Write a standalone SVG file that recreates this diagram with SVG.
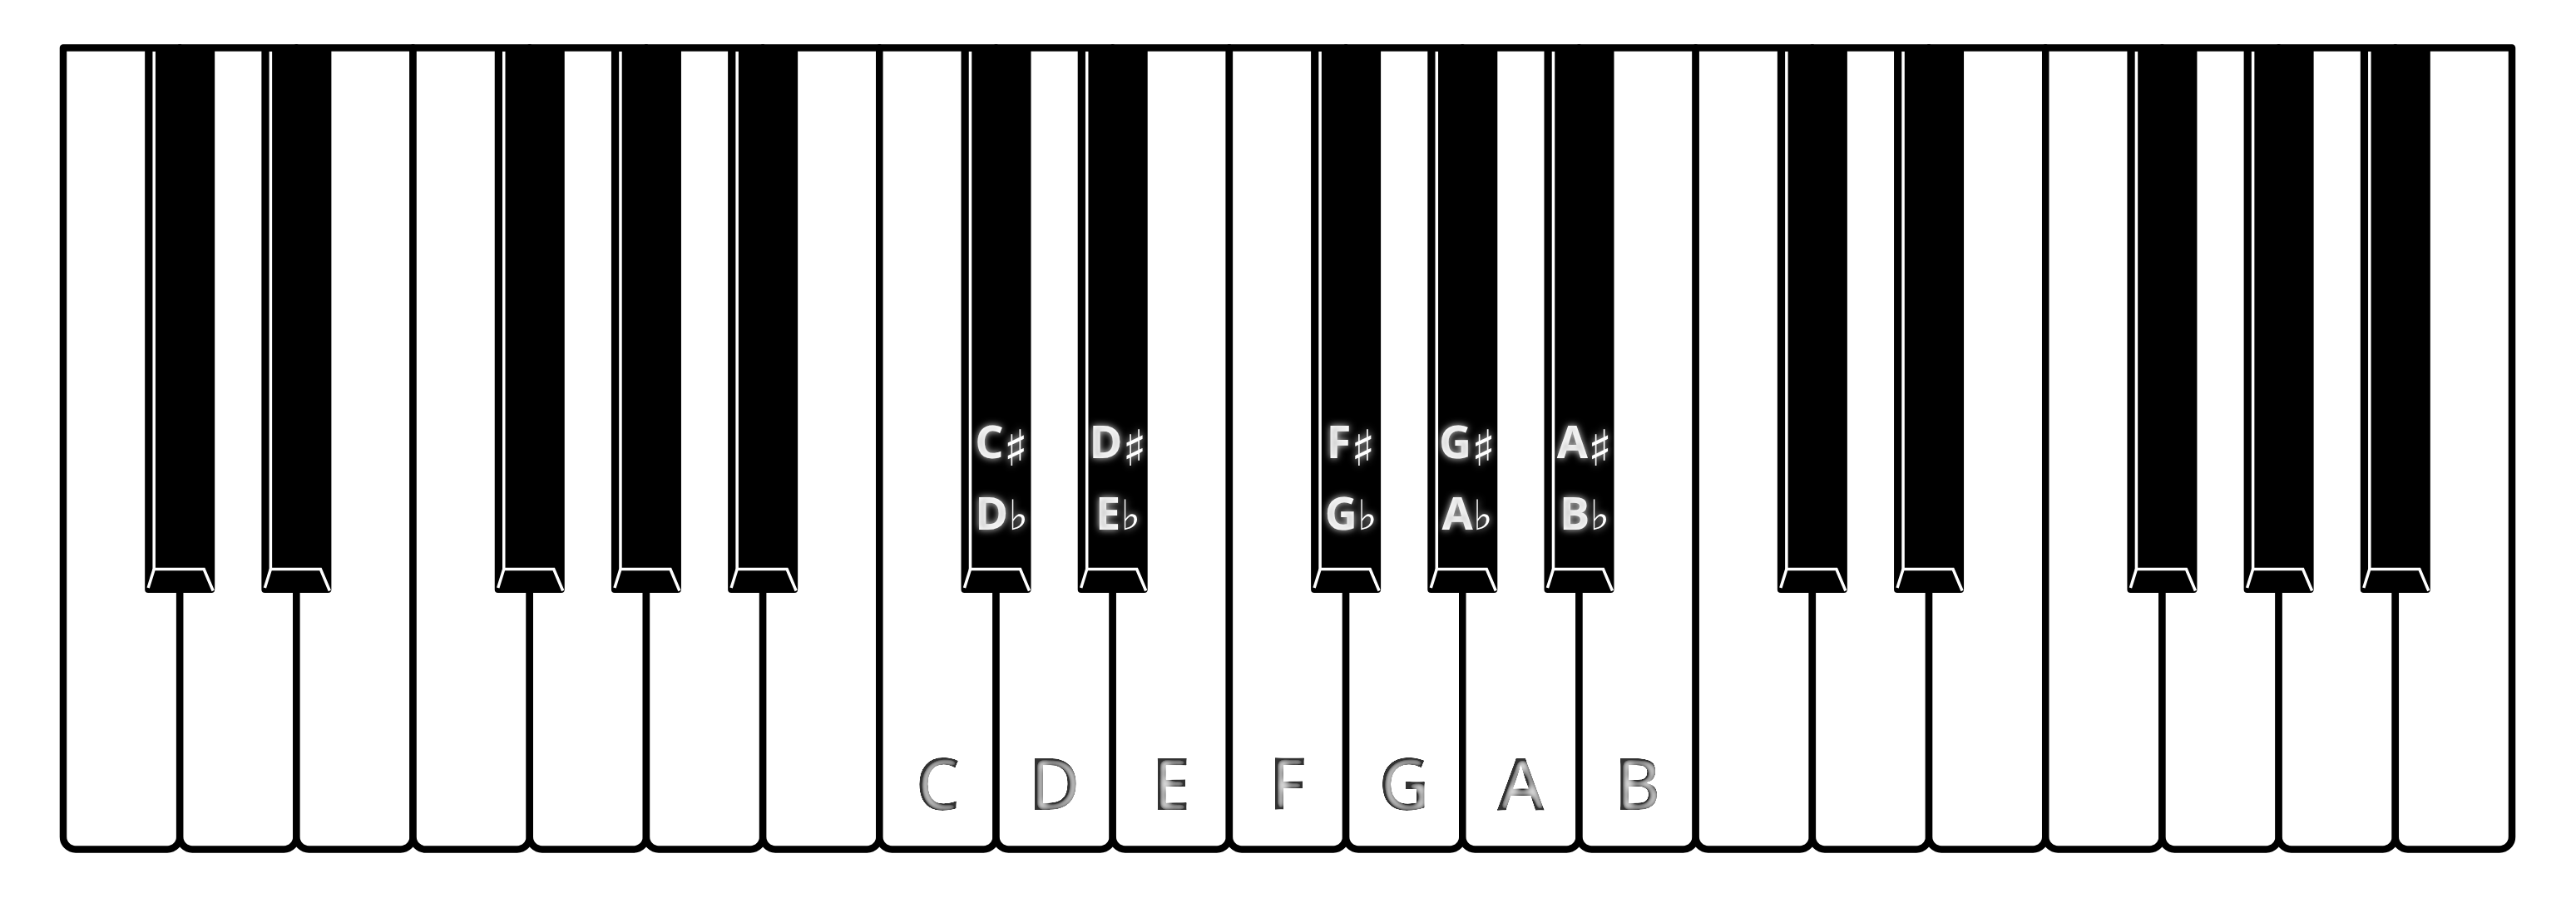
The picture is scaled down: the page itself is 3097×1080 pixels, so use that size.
<svg xmlns="http://www.w3.org/2000/svg" width="3097" height="1080" viewBox="0 0 3097 1080">
<style>
.wk{fill:#fff;stroke:#000;stroke-width:8.5;stroke-linejoin:round}
.bkbody{fill:#000}
.hl{fill:none;stroke:#fff;stroke-width:3.5;stroke-linejoin:miter}
.bl{font-family:"Open Sans","Liberation Sans",sans-serif;font-weight:700;font-size:54px;fill:#fff;text-anchor:middle;filter:url(#glow)}
.sh{font-family:"DejaVu Sans",sans-serif;font-weight:400;font-size:60px}
.fl{font-family:"DejaVu Sans",sans-serif;font-weight:400;font-size:50px}
.wl{font-family:"Open Sans","Liberation Sans",sans-serif;font-weight:600;font-size:86px;fill:#fafafa;text-anchor:middle;filter:url(#inset)}
</style>
<defs>
<path id="wkshape" class="wk" d="M0,57.5 H140.19 V1006.5 A15,15 0 0 1 125.19,1021.5 H15 A15,15 0 0 1 0,1006.5 Z"/>
<g id="bkshape">
<path class="bkbody" d="M-42,55 H42 V709 Q42,713 38,713 H-38 Q-42,713 -42,709 Z"/>
<path class="hl" d="M-31,62 V684.5 H29 L40,710.5"/>
<path class="hl" d="M-31,684.5 L-38,707"/>
</g>
<filter id="glow" x="-40%" y="-40%" width="180%" height="180%">
<feGaussianBlur in="SourceAlpha" stdDeviation="4" result="b"/>
<feFlood flood-color="#fff" flood-opacity="0.85"/>
<feComposite in2="b" operator="in" result="g"/>
<feMorphology in="SourceAlpha" operator="erode" radius="1.5" result="e"/>
<feGaussianBlur in="e" stdDeviation="3" result="eb"/>
<feFlood flood-color="#555" flood-opacity="0.6"/>
<feComposite in2="eb" operator="in" result="d1"/>
<feComposite in="d1" in2="SourceAlpha" operator="in" result="d"/>
<feMerge><feMergeNode in="g"/><feMergeNode in="SourceGraphic"/><feMergeNode in="d"/></feMerge>
</filter>
<filter id="inset" x="-20%" y="-20%" width="140%" height="140%">
<feGaussianBlur in="SourceAlpha" stdDeviation="5" result="b"/>
<feOffset in="b" dx="1.5" dy="1" result="bo"/>
<feComposite in="SourceAlpha" in2="bo" operator="arithmetic" k2="2.2" k3="-2.2" result="edge"/>
<feFlood flood-color="#333"/>
<feComposite in2="edge" operator="in" result="sh"/>
<feMerge><feMergeNode in="SourceGraphic"/><feMergeNode in="sh"/></feMerge>
</filter>
</defs>
<rect width="3097" height="1080" fill="#fff"/>
<g id="white-keys">
<use id="wk1" href="#wkshape" x="76"/>
<use id="wk2" href="#wkshape" x="216.19"/>
<use id="wk3" href="#wkshape" x="356.38"/>
<use id="wk4" href="#wkshape" x="496.57"/>
<use id="wk5" href="#wkshape" x="636.76"/>
<use id="wk6" href="#wkshape" x="776.95"/>
<use id="wk7" href="#wkshape" x="917.14"/>
<use id="wk8" href="#wkshape" x="1057.33"/>
<use id="wk9" href="#wkshape" x="1197.52"/>
<use id="wk10" href="#wkshape" x="1337.71"/>
<use id="wk11" href="#wkshape" x="1477.9"/>
<use id="wk12" href="#wkshape" x="1618.1"/>
<use id="wk13" href="#wkshape" x="1758.29"/>
<use id="wk14" href="#wkshape" x="1898.48"/>
<use id="wk15" href="#wkshape" x="2038.67"/>
<use id="wk16" href="#wkshape" x="2178.86"/>
<use id="wk17" href="#wkshape" x="2319.05"/>
<use id="wk18" href="#wkshape" x="2459.24"/>
<use id="wk19" href="#wkshape" x="2599.43"/>
<use id="wk20" href="#wkshape" x="2739.62"/>
<use id="wk21" href="#wkshape" x="2879.81"/>
</g>
<g id="black-keys">
<use id="bk1" href="#bkshape" x="216.19"/>
<use id="bk2" href="#bkshape" x="356.38"/>
<use id="bk3" href="#bkshape" x="636.76"/>
<use id="bk4" href="#bkshape" x="776.95"/>
<use id="bk5" href="#bkshape" x="917.14"/>
<use id="bk6" href="#bkshape" x="1197.52"/>
<use id="bk7" href="#bkshape" x="1337.71"/>
<use id="bk8" href="#bkshape" x="1618.1"/>
<use id="bk9" href="#bkshape" x="1758.29"/>
<use id="bk10" href="#bkshape" x="1898.48"/>
<use id="bk11" href="#bkshape" x="2178.86"/>
<use id="bk12" href="#bkshape" x="2319.05"/>
<use id="bk13" href="#bkshape" x="2599.43"/>
<use id="bk14" href="#bkshape" x="2739.62"/>
<use id="bk15" href="#bkshape" x="2879.81"/>
</g>
<g id="black-labels">
<g id="lbl-cs"><text class="bl" x="1204" y="551">C<tspan class="sh" dy="9">♯</tspan></text><text class="bl" x="1204" y="637">D<tspan class="fl">♭</tspan></text></g>
<g id="lbl-ds"><text class="bl" x="1344" y="551">D<tspan class="sh" dy="9">♯</tspan></text><text class="bl" x="1344" y="637">E<tspan class="fl">♭</tspan></text></g>
<g id="lbl-fs"><text class="bl" x="1624" y="551">F<tspan class="sh" dy="9">♯</tspan></text><text class="bl" x="1624" y="637">G<tspan class="fl">♭</tspan></text></g>
<g id="lbl-gs"><text class="bl" x="1764" y="551">G<tspan class="sh" dy="9">♯</tspan></text><text class="bl" x="1764" y="637">A<tspan class="fl">♭</tspan></text></g>
<g id="lbl-as"><text class="bl" x="1905" y="551">A<tspan class="sh" dy="9">♯</tspan></text><text class="bl" x="1905" y="637">B<tspan class="fl">♭</tspan></text></g>
</g>
<g id="white-labels">
<text class="wl" x="1127.4" y="974">C</text>
<text class="wl" x="1267.6" y="974">D</text>
<text class="wl" x="1407.8" y="974">E</text>
<text class="wl" x="1548" y="974">F</text>
<text class="wl" x="1688.2" y="974">G</text>
<text class="wl" x="1828.4" y="974">A</text>
<text class="wl" x="1968.6" y="974">B</text>
</g>
<g id="connectors"/>
</svg>
